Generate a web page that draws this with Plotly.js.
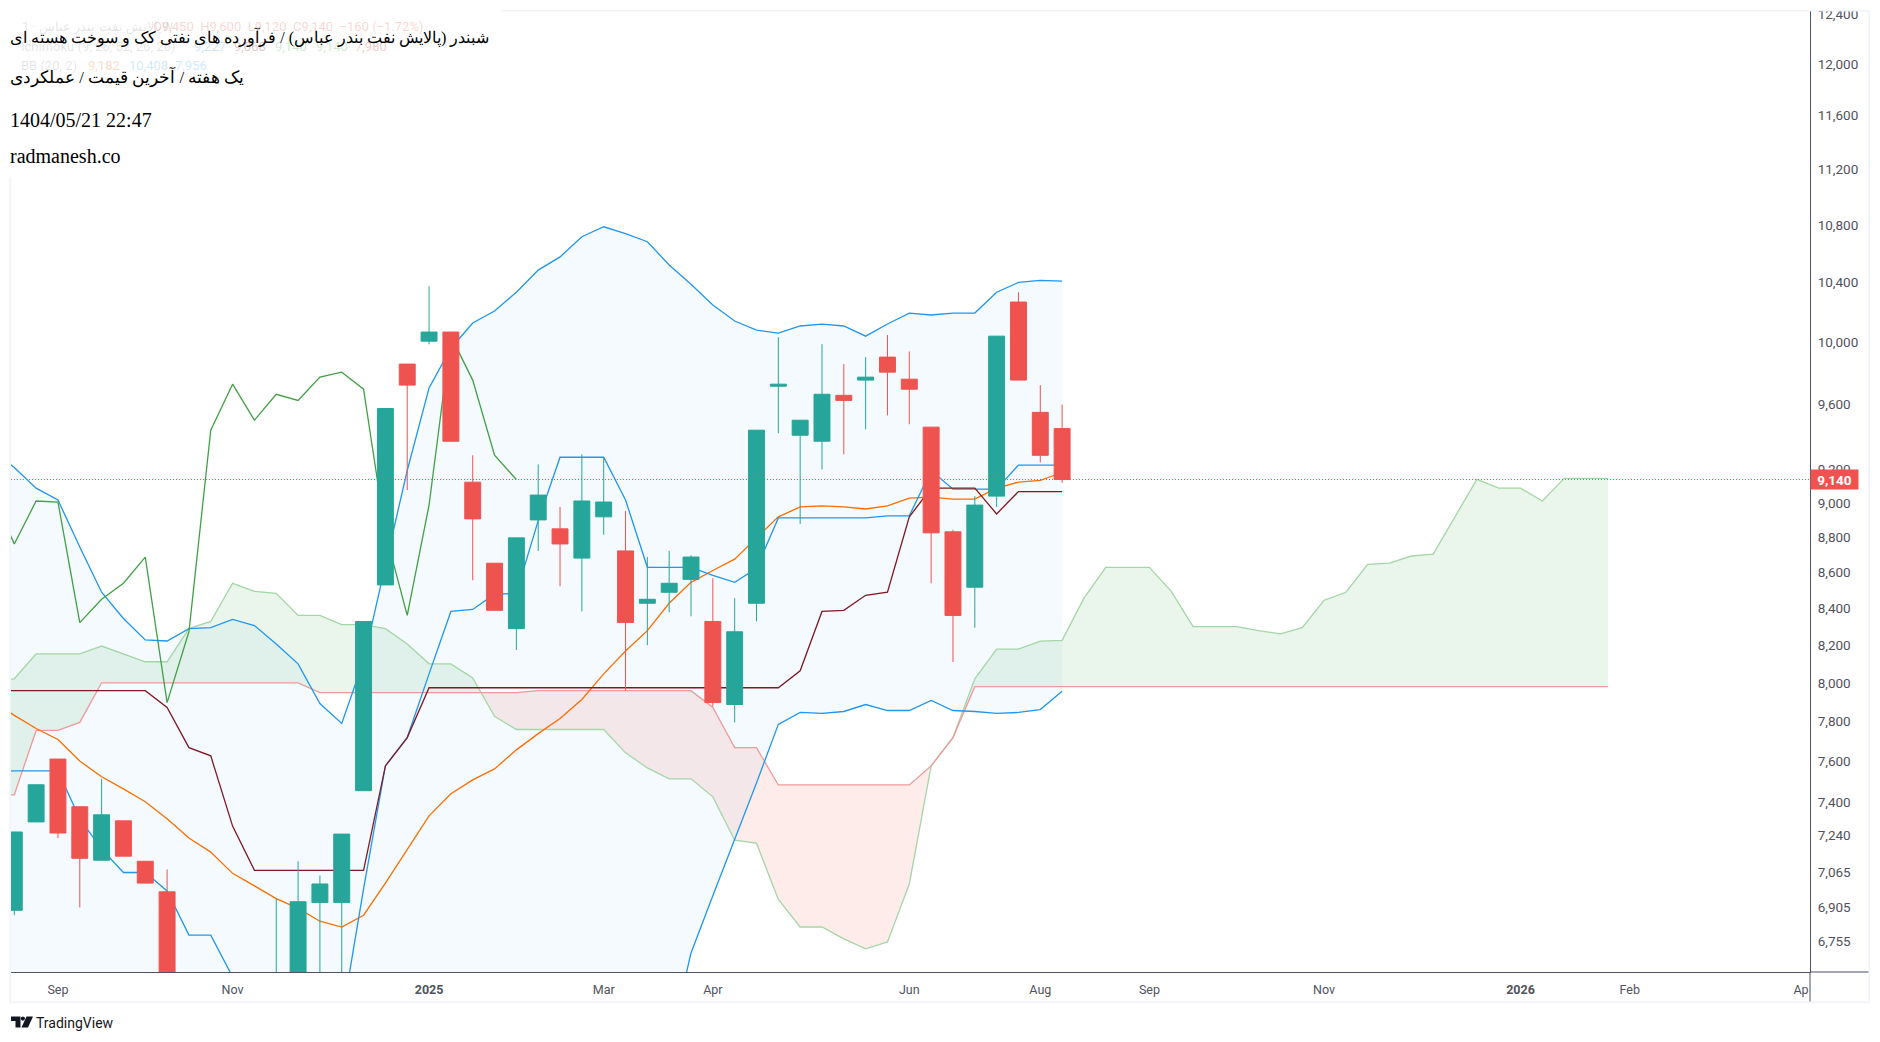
<!DOCTYPE html>
<html><head><meta charset="utf-8">
<script src="https://cdn.plot.ly/plotly-3.0.1.min.js"></script>
<style>html,body{margin:0;padding:0;background:#fff}#c{width:1880px;height:1042px}</style>
</head><body><div id="c"></div>
<script>
// ---- weekly OHLC (bar index 0 = first visible week) ----
const open_ = [6892,7303,7610,7376,7122,7308,7117,6976,6500,6400,6300,6250,6300,6500,6927,6927,7454,8530,9858,10007,10067,9124,8652,8289,8901,8849,8681,8919,8722,8428,8489,8561,8328,7887,8428,9716,9409,9372,9658,9755,9903,9761,9459,8832,8517,9041,10267,9551,9450];
const high_ = [7255,7483,7610,7376,7512,7308,7117,7079,6560,6480,6400,6350,6945,7117,7051,7245,8328,9575,9858,10373,10067,9286,8652,8797,9231,8977,9292,9274,8954,8687,8722,8698,8567,8456,9440,10033,9502,9987,9858,9903,10047,9940,9459,8844,9041,10040,10333,9723,9600];
const low_  = [6870,7303,7226,6905,7122,7141,7016,6500,6300,6200,6150,6100,6200,6450,6500,6500,7454,8530,9077,9987,9372,8556,8389,8174,8722,8522,8383,8815,7959,8200,8378,8356,7877,7795,8328,9421,8878,9200,9292,9446,9532,9477,8539,8110,8294,8977,9755,9243,9120];
const close_= [7255,7483,7250,7131,7337,7141,7016,6550,6400,6300,6250,6200,6500,6931,7012,7245,8328,9575,9723,10067,9372,8907,8389,8797,9047,8762,9012,9006,8322,8450,8539,8687,7897,8272,9440,9729,9502,9665,9626,9774,9806,9697,8826,8361,8988,10040,9755,9286,9140];

// ---- indicators; these arrays start one bar before bar 0 ----
const bbUpper = [9317,9212,9088,9018,8745,8489,8344,8228,8222,8289,8294,8339,8306,8206,8100,7892,7790,8116,8641,9194,9705,9961,10127,10207,10333,10484,10575,10716,10786,10737,10681,10519,10387,10247,10140,10080,10060,10107,10120,10107,10040,10120,10193,10180,10193,10193,10333,10400,10414,10408];
const bbBasis = [7908,7831,7764,7708,7600,7522,7463,7400,7318,7226,7160,7061,7003,6945,6901,6843,6817,6870,7016,7174,7332,7439,7507,7561,7656,7738,7815,7913,8047,8168,8278,8428,8544,8611,8675,8797,8919,8977,8983,8977,8965,8983,9029,9035,9023,9023,9088,9124,9135,9182];
const bbLower = [6499,6450,6440,6398,6455,6555,6582,6572,6414,6163,6026,5783,5700,5684,5702,5794,5844,5624,5391,5154,4959,4917,4887,4915,4979,4992,5055,5110,5308,5599,5875,6300,6702,6958,7216,7492,7785,7846,7841,7851,7887,7856,7856,7908,7856,7851,7841,7846,7861,7956];
const conversion = [7551,7551,7551,7551,7318,7174,7065,7065,6980,6781,6781,6598,6500,6400,6350,6350,6418,6990,7576,7718,8047,8383,8394,8478,8483,8897,9274,9274,9274,9018,8629,8629,8629,8583,8544,8623,8913,8913,8913,8913,8913,8925,8925,9194,9082,9082,9082,9227,9227,9227];
const baseLine = [7959,7959,7959,7959,7959,7959,7959,7959,7872,7667,7626,7283,7075,7075,7075,7075,7075,7075,7576,7718,7974,7974,7974,7974,7974,7974,7974,7974,7974,7974,7974,7974,7974,7974,7974,7974,7974,8063,8383,8389,8472,8489,8919,9088,9088,9088,8936,9068,9068,9068];
const lagging = [9047,8762,9012,9006,8322,8450,8539,8687,7897,8272,9440,9729,9502,9665,9626,9774,9806,9697,8826,8361,8988,10040,9755,9286,9140];
const leadA = [8010,8021,8153,8153,8153,8195,8153,8111,8111,8289,8328,8539,8494,8483,8361,8361,8311,8311,8289,8206,8100,8100,8026,7826,7759,7759,7759,7759,7759,7641,7566,7512,7512,7424,7216,7202,6941,6817,6817,6764,6720,6751,7012,7576,7718,8021,8179,8179,8221,8226,8456,8629,8629,8629,8494,8300,8300,8300,8278,8261,8294,8444,8489,8646,8652,8693,8704,8919,9141,9088,9088,9012,9147,9147,9147];
const leadB = [7434,7434,7754,7754,7795,8000,8000,8000,8000,8000,8000,8000,8000,8000,8000,7949,7949,7949,7949,7949,7949,7949,7949,7949,7949,7959,7959,7959,7959,7959,7959,7959,7959,7872,7667,7667,7482,7482,7482,7482,7482,7482,7482,7576,7718,7980,7980,7980,7980,7980,7980,7980,7980,7980,7980,7980,7980,7980,7980,7980,7980,7980,7980,7980,7980,7980,7980,7980,7980,7980,7980,7980,7980,7980,7980];
const lastPrice = 9140;

// ---- axis labels ----
const yTickVals = [12400,12000,11600,11200,10800,10400,10000,9600,9200,9000,8800,8600,8400,8200,8000,7800,7600,7400,7240,7065,6905,6755];
const yTickText = ['12,400','12,000','11,600','11,200','10,800','10,400','10,000','9,600','9,200','9,000','8,800','8,600','8,400','8,200','8,000','7,800','7,600','7,400','7,240','7,065','6,905','6,755'];
const xTickVals = [2,10,19,27,32,41,47,52,60,69,74,81.85];
const xTickText = ['Sep','Nov','<b>2025</b>','Mar','Apr','Jun','Aug','Sep','Nov','<b>2026</b>','Feb','Ap'];

const titleLines = ['شبندر (پالایش نفت بندر عباس) / فرآورده های نفتی کک و سوخت هسته ای','یک هفته / آخرین قیمت / عملکردی','1404/05/21 22:47','radmanesh.co'];

// ---- geometry of the canvas ----
const W=1880,H=1042,L=11,R=1810,T=11,B=972;
const px=p=>(p-L)/(R-L), py=p=>1-(p-T)/(B-T);
const xRange=[-0.151,82.26], yRange=[Math.log10(12424),Math.log10(6619)].reverse();
const barX=close_.map((_,i)=>i), lineX=bbUpper.map((_,i)=>i-1), lagX=lagging.map((_,i)=>i-1), leadX=leadA.map((_,i)=>i-1);

// cloud bands with the crossing points of the two lead lines inserted
const cx=[],ca=[],cb=[];
for(let i=0;i<leadX.length;i++){
  cx.push(leadX[i]);ca.push(leadA[i]);cb.push(leadB[i]);
  if(i<leadX.length-1){
    const d0=Math.log10(leadA[i]/leadB[i]),d1=Math.log10(leadA[i+1]/leadB[i+1]);
    if(d0*d1<0){const t=d0/(d0-d1);
      const v=leadB[i]*Math.pow(leadB[i+1]/leadB[i],t);
      cx.push(leadX[i]+t);ca.push(v);cb.push(v);}
  }
}
const cMax=ca.map((v,i)=>Math.max(v,cb[i])), cMin=ca.map((v,i)=>Math.min(v,cb[i]));
const none={width:0,color:'rgba(0,0,0,0)'};
const line=(x,y,color,w=1.3)=>({type:'scatter',mode:'lines',x,y,line:{color,width:w},hoverinfo:'skip',showlegend:false});
const band=(x,y,color,first)=>({type:'scatter',mode:'lines',x,y,line:none,hoverinfo:'skip',showlegend:false,fill:first?'none':'tonexty',fillcolor:color});

const traces=[
  band(lineX,bbLower,null,true),
  band(lineX,bbUpper,'rgba(33,150,243,0.05)',false),
  band(cx,cb,null,true),
  band(cx,cMax,'rgba(67,160,71,0.11)',false),
  band(cx,cb,null,true),
  band(cx,cMin,'rgba(244,67,54,0.10)',false),
  line(leadX,leadA,'#A5D6A7'),
  line(leadX,leadB,'#EF9A9A'),
  line(lineX,bbUpper,'#2196F3'),
  line(lineX,bbLower,'#2196F3'),
  line(lineX,bbBasis,'#FF6D00'),
  line(lineX,conversion,'#2196F3'),
  line(lineX,baseLine,'#801922'),
  line(lagX,lagging,'#43A047'),
  {type:'candlestick',x:barX,open:open_,high:high_,low:low_,close:close_,xaxis:'x2',yaxis:'y2',
   increasing:{line:{color:'#26A69A',width:1},fillcolor:'#26A69A'},
   decreasing:{line:{color:'#EF5350',width:1},fillcolor:'#EF5350'},
   whiskerwidth:0,hoverinfo:'skip',showlegend:false},
  {type:'scatter',mode:'lines',x:xRange,y:[lastPrice,lastPrice],xaxis:'x2',yaxis:'y2',
   line:{color:'#EF5350',width:1,dash:'1px 2px'},hoverinfo:'skip',showlegend:false}
];

const rect=(x0,y0,x1,y1,fill)=>({type:'rect',xref:'paper',yref:'paper',x0:px(x0),x1:px(x1),y0:py(y0),y1:py(y1),fillcolor:fill,line:{width:0},layer:'above'});
const poly=(pts,fill)=>({type:'path',xref:'paper',yref:'paper',path:'M'+pts.map(p=>px(p[0])+','+py(p[1])).join('L')+'Z',fillcolor:fill,line:{width:0},layer:'above'});
const frame='#F0F3FA',axisC='#50535E';
const shapes=[
  rect(1811,0,1868,10,'#ffffff'),
  rect(501,10,1870,11.5,frame),
  rect(9.5,177,11,1003,frame),
  rect(1868.5,10,1870,1003,frame),
  rect(9.5,1001.5,1870,1003,frame),
  rect(1809.5,972,1810.5,1001.5,axisC),
  rect(1810,971.5,1868.5,972.5,axisC),
  poly([[11,1016.5],[20.5,1016.5],[20.5,1027.5],[15.5,1027.5],[15.5,1021],[11,1021]],'#131722'),
  {type:'circle',xref:'paper',yref:'paper',x0:px(20.8),x1:px(25),y0:py(1016.5),y1:py(1020.7),fillcolor:'#131722',line:{width:0},layer:'above'},
  poly([[26.5,1016.5],[33,1016.5],[28,1027.5],[21.5,1027.5]],'#131722')
];

const note=(text,xp,yp,size,color,family,extra={})=>Object.assign({xref:'paper',yref:'paper',x:px(xp),y:py(yp),text,showarrow:false,xanchor:'left',yanchor:'middle',align:'left',font:{size,color,family},borderpad:0},extra);
const ui='Roboto, sans-serif', serif='"Liberation Serif", "Noto Sans", serif';
const annotations=[
  // faded status line behind the caption
  note('پالایش نفت بندر عباس · 1W',21,27,13,'rgba(19,23,34,0.13)',ui),
  note('O9,450  H9,600  L9,120  C9,140  −160 (−1.72%)',152,27,13,'rgba(239,83,80,0.25)',ui),
  note('Ichimoku (9, 26, 52, 26, 26)',20,47,13,'rgba(19,23,34,0.13)',ui),
  note('9,227',193,47,13,'rgba(33,150,243,0.25)',ui),
  note('9,068',233,47,13,'rgba(128,25,34,0.25)',ui),
  note('9,140',274,47,13,'rgba(67,160,71,0.25)',ui),
  note('9,140',315,47,13,'rgba(165,214,167,0.5)',ui),
  note('7,980',354,47,13,'rgba(239,154,154,0.5)',ui),
  note('BB (20, 2)',20,66,13,'rgba(19,23,34,0.13)',ui),
  note('9,182',87,66,13,'rgba(255,109,0,0.25)',ui),
  note('10,408',128,66,13,'rgba(33,150,243,0.22)',ui),
  note('7,956',174,66,13,'rgba(33,150,243,0.22)',ui),
  // caption
  note(titleLines[0],9,37,16.1,'#000',serif),
  note(titleLines[1],9,76.5,16.8,'#000',serif),
  note(titleLines[2],9,120,20,'#000',serif),
  note(titleLines[3],9,156,20,'#000',serif),
  note('TradingView',35,1023,14,'#131722',ui),
  // last price tag
  {xref:'paper',yref:'y',x:1,y:Math.log10(lastPrice),text:'<b>9,140</b>',showarrow:false,xanchor:'left',yanchor:'middle',width:47,height:19,align:'center',valign:'middle',bgcolor:'#EF5350',borderpad:0,font:{size:13.5,color:'#fff',family:ui}}
];

const layout={
  width:W,height:H,paper_bgcolor:'#fff',plot_bgcolor:'#fff',showlegend:false,hovermode:false,
  margin:{l:L,r:W-R,t:T,b:H-B,pad:0},
  xaxis:{type:'linear',range:xRange,showgrid:false,zeroline:false,showline:true,linecolor:axisC,linewidth:1,
    tickmode:'array',tickvals:xTickVals,ticktext:xTickText,ticks:'',ticklabelstandoff:6,tickfont:{family:ui,size:12.5,color:axisC},fixedrange:true},
  yaxis:{type:'log',side:'right',range:yRange,showgrid:false,zeroline:false,showline:true,linecolor:axisC,linewidth:1,
    tickmode:'array',tickvals:yTickVals,ticktext:yTickText,ticks:'',ticklabelstandoff:4,tickfont:{family:ui,size:13.5,color:axisC},fixedrange:true},
  xaxis2:{type:'linear',overlaying:'x',range:xRange,visible:false,rangeslider:{visible:false},fixedrange:true},
  yaxis2:{type:'log',overlaying:'y',side:'right',range:yRange,visible:false,fixedrange:true},
  boxgap:0.27,boxgroupgap:0,
  shapes,annotations
};
Plotly.newPlot('c',traces,layout,{displayModeBar:false,staticPlot:true});
</script></body></html>
